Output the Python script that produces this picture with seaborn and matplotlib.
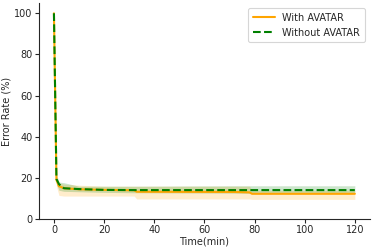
import matplotlib
matplotlib.use('Agg')
import matplotlib.pyplot as plt
import seaborn as sns
import pandas as pd

# time points (minutes)
time_min = [0, 1, 2, 4, 10, 20, 32, 33, 72, 78, 79, 120]

# With AVATAR: mean error and band
with_mean = [100, 19, 16, 15, 14.5, 14.2, 14.0, 13.3, 13.2, 13.0, 12.3, 12.3]
with_low = [100, 16, 11.5, 11.2, 11.2, 11.2, 11.2, 9.8, 9.8, 9.8, 9.6, 9.6]
with_high = [100, 21, 17.5, 17, 16.5, 16, 16, 16, 16, 16, 14, 14]

# Without AVATAR: mean error and band
without_mean = [100, 19.5, 17, 15, 14.6, 14.2, 14.1, 14.1, 14.1, 14.1, 14.1, 14.1]
without_low = [100, 17, 14, 13.5, 13.3, 13, 12.8, 12.8, 12.6, 12.5, 12.5, 12.5]
without_high = [100, 22, 18, 17.7, 16, 16, 16, 16, 16.2, 16.2, 16.2, 16.2]

sns.set_theme(style='ticks')
plt.rcParams['font.family'] = ['DejaVu Sans']

df = pd.DataFrame({
    'time': time_min,
    'with': with_mean,
    'without': without_mean,
})

fig = plt.figure(figsize=(3.74, 2.49), dpi=100)
ax = fig.add_axes([0.104, 0.12, 0.885, 0.868])

ax.fill_between(time_min, with_low, with_high, color='orange', alpha=0.2, lw=0)
ax.fill_between(time_min, without_low, without_high, color='green', alpha=0.2, lw=0)

sns.lineplot(data=df, x='time', y='with', ax=ax, color='orange', lw=1.5,
             label='With AVATAR')
sns.lineplot(data=df, x='time', y='without', ax=ax, color='green', lw=1.5,
             linestyle='--', label='Without AVATAR')

ax.set_xlim(-6, 126)
ax.set_ylim(0, 105)
ax.set_xticks([0, 20, 40, 60, 80, 100, 120])
ax.set_yticks([0, 20, 40, 60, 80, 100])
ax.set_xlabel('Time(min)', fontsize=7, labelpad=1)
ax.set_ylabel('Error Rate (%)', fontsize=7, labelpad=2)
ax.tick_params(labelsize=7, length=3, width=0.8, pad=1.5)
for s in ['left', 'bottom']:
    ax.spines[s].set_linewidth(0.8)
sns.despine(ax=ax)

leg = ax.legend(loc='upper right', fontsize=7, frameon=True,
                borderpad=0.5, handlelength=2.2, bbox_to_anchor=(1.0, 1.0))
leg.get_frame().set_edgecolor('#cccccc')
leg.get_frame().set_linewidth(0.8)

fig.savefig('out.png', dpi=100)
